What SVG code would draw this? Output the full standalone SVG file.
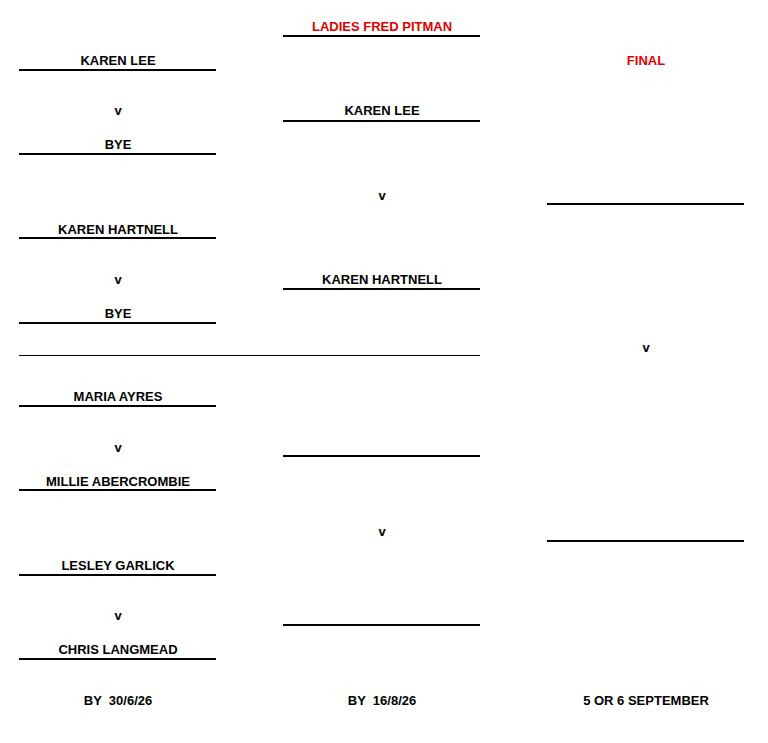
<svg xmlns="http://www.w3.org/2000/svg" width="768" height="743" viewBox="0 0 768 743">
<style>
text{font-family:"Liberation Sans",Arial,sans-serif;font-size:13px;font-weight:bold;text-anchor:middle;fill:#000}
.r{fill:#e00000}
.t{stroke:#000;stroke-width:2.2}
.n{stroke:#000;stroke-width:1}
</style>
<rect width="768" height="743" fill="#fff"/>
<g id="connectors">
<line class="t" x1="19" y1="70" x2="216" y2="70"/>
<line class="t" x1="19" y1="154" x2="216" y2="154"/>
<line class="t" x1="19" y1="238" x2="216" y2="238"/>
<line class="t" x1="19" y1="323" x2="216" y2="323"/>
<line class="n" x1="19" y1="355.5" x2="480" y2="355.5"/>
<line class="t" x1="19" y1="406" x2="216" y2="406"/>
<line class="t" x1="19" y1="490" x2="216" y2="490"/>
<line class="t" x1="19" y1="575" x2="216" y2="575"/>
<line class="t" x1="19" y1="659" x2="216" y2="659"/>
<line class="t" x1="283" y1="36" x2="480" y2="36"/>
<line class="t" x1="283" y1="121" x2="480" y2="121"/>
<line class="t" x1="283" y1="289" x2="480" y2="289"/>
<line class="t" x1="283" y1="456" x2="480" y2="456"/>
<line class="t" x1="283" y1="625" x2="480" y2="625"/>
<line class="t" x1="547" y1="204" x2="744" y2="204"/>
<line class="t" x1="547" y1="541" x2="744" y2="541"/>
</g>
<g id="title"><text class="r" x="382" y="31">LADIES FRED PITMAN</text></g>
<g id="final"><text class="r" x="646" y="65">FINAL</text></g>
<g id="r1">
<text x="118" y="65">KAREN LEE</text>
<text x="118" y="115">v</text>
<text x="118" y="149">BYE</text>
<text x="118" y="234">KAREN HARTNELL</text>
<text x="118" y="284">v</text>
<text x="118" y="318">BYE</text>
<text x="118" y="401">MARIA AYRES</text>
<text x="118" y="452">v</text>
<text x="118" y="486">MILLIE ABERCROMBIE</text>
<text x="118" y="570">LESLEY GARLICK</text>
<text x="118" y="620">v</text>
<text x="118" y="654">CHRIS LANGMEAD</text>
</g>
<g id="r2">
<text x="382" y="115">KAREN LEE</text>
<text x="382" y="200">v</text>
<text x="382" y="284">KAREN HARTNELL</text>
<text x="382" y="536">v</text>
</g>
<g id="r3"><text x="646" y="352">v</text></g>
<g id="dates">
<text x="118" y="705" xml:space="preserve">BY  30/6/26</text>
<text x="382" y="705" xml:space="preserve">BY  16/8/26</text>
<text x="646" y="705">5 OR 6 SEPTEMBER</text>
</g>
</svg>
